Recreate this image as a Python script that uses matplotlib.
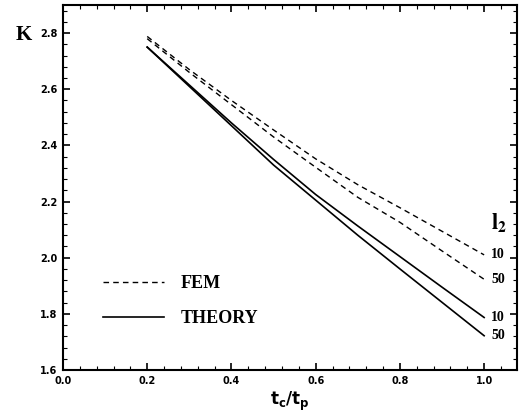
import matplotlib
matplotlib.use("Agg")
import matplotlib.pyplot as plt
from matplotlib.ticker import MultipleLocator

x = [0.2, 0.3, 0.4, 0.5, 0.6, 0.7, 0.8, 0.9, 1.0]
fem_10 = [2.788, 2.67, 2.56, 2.455, 2.352, 2.26, 2.178, 2.094, 2.01]
fem_50 = [2.78, 2.66, 2.545, 2.43, 2.322, 2.215, 2.126, 2.024, 1.923]
theory_10 = [2.75, 2.615, 2.48, 2.35, 2.225, 2.113, 2.004, 1.895, 1.787]
theory_50 = [2.75, 2.61, 2.47, 2.33, 2.205, 2.08, 1.96, 1.841, 1.722]
end_labels = ["10", "50", "10", "50"]
xticks = [0.0, 0.2, 0.4, 0.6, 0.8, 1.0]
yticks = [1.6, 1.8, 2.0, 2.2, 2.4, 2.6, 2.8]

fig = plt.figure(figsize=(5.27, 4.16), dpi=100)
ax = fig.add_axes([0.1195, 0.1106, 0.8615, 0.8774])

ax.plot(x, fem_10, color="black", lw=1.0, ls=(0, (4, 3)), label="FEM")
ax.plot(x, fem_50, color="black", lw=1.0, ls=(0, (4, 3)))
ax.plot(x, theory_10, color="black", lw=1.2, label="THEORY")
ax.plot(x, theory_50, color="black", lw=1.2)

serif = ["Liberation Serif", "DejaVu Serif"]
for ys, lab in zip([fem_10, fem_50, theory_10, theory_50], end_labels):
    ax.annotate(lab, xy=(x[-1], ys[-1]), xytext=(5, 0), textcoords="offset points",
                va="center", ha="left", fontsize=10, fontweight="bold", family=serif)
ax.text(1.035, 2.125, "$\\mathbf{l}_\\mathbf{2}$", fontsize=16, math_fontfamily="stix",
        ha="center", va="center")

ax.set_xlim(0.0, 1.078)
ax.set_ylim(1.6, 2.9)
ax.set_xticks(xticks)
ax.set_yticks(yticks)
ax.set_xticklabels([f"{v:.1f}" for v in xticks], fontsize=7, fontweight="bold")
ax.set_yticklabels([f"{v:.1f}" for v in yticks], fontsize=7, fontweight="bold")
ax.xaxis.set_minor_locator(MultipleLocator(0.04))
ax.yaxis.set_minor_locator(MultipleLocator(0.04))
ax.tick_params(which="major", direction="in", length=5, width=1.2, top=True, right=True, pad=4)
ax.tick_params(which="minor", direction="in", length=3, width=0.8, top=True, right=True)
for s in ax.spines.values():
    s.set_linewidth(1.5)

ax.set_xlabel("$\\mathbf{t_c/t_p}$", fontsize=12, labelpad=3)
fig.text(0.045, 0.915, "K", fontsize=15, fontweight="bold", family=serif, ha="center", va="center")

leg = ax.legend(loc="lower left", bbox_to_anchor=(0.052, 0.072), frameon=False,
                handlelength=3.4, handletextpad=0.9, labelspacing=1.0,
                prop={"family": serif, "weight": "bold", "size": 13})

fig.savefig("out.png", dpi=100)
